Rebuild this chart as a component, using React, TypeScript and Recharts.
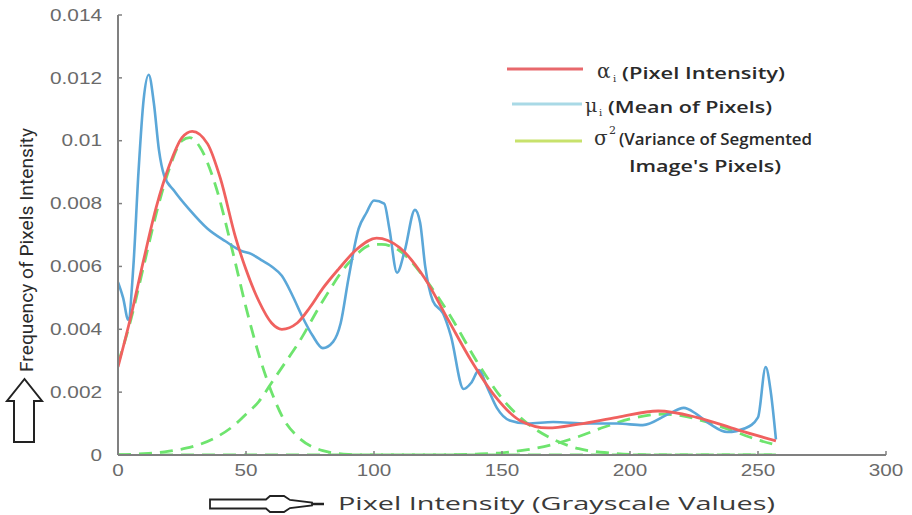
import React from 'react';
import {LineChart, Line, XAxis, YAxis, Legend} from 'recharts';

const xTicks = [0, 50, 100, 150, 200, 250, 300];
const yTicks = [0, 0.002, 0.004, 0.006, 0.008, 0.01, 0.012, 0.014];

// alpha_i (pixel intensity), fitted mixture
const alphaX = [0, 5, 10, 15, 20, 25, 29, 35, 40, 46, 50, 55, 60, 64, 70, 75, 80, 86, 94, 101, 110, 120, 129, 138, 147, 157, 168, 180, 195, 211, 226, 242, 257];
const alphaY = [0.0028, 0.0044, 0.0062, 0.0079, 0.0092, 0.0101, 0.0103, 0.0099, 0.0088, 0.0069, 0.0059, 0.0049, 0.0042, 0.0040, 0.0042, 0.0047, 0.0053, 0.0059, 0.0066, 0.0069, 0.0066, 0.0056, 0.0043, 0.0030, 0.0019, 0.0011, 0.00086, 0.00098, 0.0012, 0.0014, 0.0012, 0.0008, 0.00045];

// mu_i (mean of pixels), histogram
const muX = [0, 2, 4, 6, 8, 10, 12, 14, 16, 18, 22, 28, 35, 42, 48, 52, 56, 60, 64, 68, 72, 76, 80, 84, 87, 90, 94, 97, 100, 104, 106, 109, 112, 116, 118, 120, 123, 127, 130, 135, 138, 141, 144, 148, 153, 160, 170, 183, 195, 205, 215, 221, 226, 231, 238, 245, 250, 253, 255, 257];
const muY = [0.0055, 0.0050, 0.0043, 0.0060, 0.0090, 0.0113, 0.0121, 0.0112, 0.0097, 0.0089, 0.0084, 0.0078, 0.0072, 0.0068, 0.0065, 0.0064, 0.0062, 0.0060, 0.0057, 0.0051, 0.0044, 0.0038, 0.0034, 0.0036, 0.0042, 0.0056, 0.0072, 0.0077, 0.0081, 0.0080, 0.0072, 0.0058, 0.0065, 0.0078, 0.0074, 0.0060, 0.0049, 0.0045, 0.0038, 0.0021, 0.0023, 0.0027, 0.0022, 0.0015, 0.0011, 0.0010, 0.00105, 0.0010, 0.0010, 0.00095, 0.0013, 0.0015, 0.0013, 0.0010, 0.00073, 0.00085, 0.0012, 0.0028, 0.0020, 0.0005];

// sigma^2 components (dashed)
const sigmaX = [0, 5, 10, 15, 20, 25, 28, 32, 38, 45, 50, 55, 60, 65, 70, 80, 90, 100, 103, 110, 120, 130, 140, 150, 160, 170, 180, 190, 200, 213, 220, 230, 240, 250, 257];
const sigma1 = [0.0029, 0.0043, 0.0060, 0.0077, 0.0091, 0.0100, 0.0101, 0.0098, 0.0086, 0.0064, 0.0047, 0.0032, 0.0020, 0.0011, 0.0006, 0.00014, 0.00002, 0, 0, 0, 0, 0, 0, 0, 0, 0, 0, 0, 0, 0, 0, 0, 0, 0, 0];
const sigma2 = [0.00001, 0.00002, 0.00004, 0.00007, 0.00012, 0.00019, 0.00024, 0.00034, 0.00055, 0.00092, 0.0013, 0.0017, 0.0023, 0.0029, 0.0035, 0.0049, 0.0061, 0.0067, 0.0067, 0.0065, 0.0056, 0.0044, 0.0030, 0.0018, 0.0010, 0.0005, 0.0002, 0.00008, 0.00002, 0, 0, 0, 0, 0, 0];
const sigma3 = [0, 0, 0, 0, 0, 0, 0, 0, 0, 0, 0, 0, 0, 0, 0, 0, 0, 0, 0, 0, 0, 0.00001, 0.00003, 0.00007, 0.00017, 0.00034, 0.00059, 0.00089, 0.00115, 0.0013, 0.00125, 0.00105, 0.00077, 0.00048, 0.00032];

const toPoints = (xs: number[], ys: number[]) => xs.map((x, i) => ({x, y: ys[i]}));

const AXIS = '#808080';
const TICK_TEXT = '#6a6a6a';
const RED = '#f0615f';
const BLUE = '#5ba7d8';
const GREEN = '#6ee46e';
const tickFont = "'Liberation Sans', Arial, sans-serif";

// the reference's numerals are drawn wide, so stretch them a little
const numWidth = (s: string) => s.split('').reduce((w, c) => w + (c === '.' ? 6 : 11.5), 0);

const LeftTick = (props: any) => {
  const {x, y, payload} = props;
  const label = String(payload.value);
  return (
    <g>
      <line x1={x + 16} y1={y} x2={x + 20} y2={y} stroke={AXIS} strokeWidth={1.5} />
      <text x={x} y={y} dy="0.36em" textAnchor="end" fill={TICK_TEXT} fontSize={16} fontFamily={tickFont} textLength={numWidth(label)} lengthAdjust="spacingAndGlyphs">
        {label}
      </text>
    </g>
  );
};

const BottomTick = (props: any) => {
  const {x, y, payload} = props;
  const label = String(payload.value);
  return (
    <g>
      <line x1={x} y1={y - 9} x2={x} y2={y - 13} stroke={AXIS} strokeWidth={1.5} />
      <text x={x} y={y} dy="0.75em" textAnchor="middle" fill={TICK_TEXT} fontSize={16} fontFamily={tickFont} textLength={numWidth(label)} lengthAdjust="spacingAndGlyphs">
        {label}
      </text>
    </g>
  );
};

const TopTick = (props: any) => {
  const {x, y} = props;
  return <line x1={x} y1={y} x2={x} y2={y + 4} stroke={AXIS} strokeWidth={1.5} />;
};

const RightTick = (props: any) => {
  const {x, y} = props;
  return <line x1={x} y1={y} x2={x - 4} y2={y} stroke={AXIS} strokeWidth={1.5} />;
};

const legendFont = "'Open Sans', 'Noto Sans', sans-serif";
const mathFont = "'DejaVu Serif', serif";

const LegendBox = () => (
  <svg width={330} height={135} style={{display: 'block'}}>
    <line x1={12} y1={19} x2={88} y2={19} stroke="#e8686c" strokeWidth={3} />
    <text x={102} y={28} fontSize={20} fill="#333" fontFamily={mathFont}>α</text>
    <text x={118} y={32} fontSize={10} fill="#333" fontFamily={mathFont}>i</text>
    <text x={127} y={29} fontSize={16} fontWeight={600} fill="#2a2a2a" fontFamily={legendFont} textLength={163} lengthAdjust="spacingAndGlyphs">(Pixel Intensity)</text>

    <line x1={17} y1={54} x2={87} y2={54} stroke="#a9d9e6" strokeWidth={3} />
    <text x={90} y={62} fontSize={19} fill="#333" fontFamily={mathFont}>μ</text>
    <text x={104} y={66} fontSize={10} fill="#333" fontFamily={mathFont}>i</text>
    <text x={113} y={63} fontSize={16} fontWeight={600} fill="#2a2a2a" fontFamily={legendFont} textLength={164} lengthAdjust="spacingAndGlyphs">(Mean of Pixels)</text>

    <line x1={20} y1={91} x2={87} y2={91} stroke="#c8e26c" strokeWidth={3} />
    <text x={99} y={95} fontSize={20} fill="#333" fontFamily={mathFont}>σ</text>
    <text x={114} y={84} fontSize={11} fill="#333" fontFamily={mathFont}>2</text>
    <text x={124} y={95} fontSize={16} fontWeight={600} fill="#2a2a2a" fontFamily={legendFont} textLength={193} lengthAdjust="spacingAndGlyphs">(Variance of Segmented</text>
    <text x={134} y={122} fontSize={16} fontWeight={600} fill="#2a2a2a" fontFamily={legendFont} textLength={152} lengthAdjust="spacingAndGlyphs">Image's Pixels)</text>
  </svg>
);

export default function App() {
  return (
    <div style={{position: 'absolute', left: 0, top: 0, width: 912, height: 515, background: '#fff'}}>
      <LineChart width={912} height={515} margin={{top: 15, right: 26, bottom: 30, left: 0}}>
        <XAxis
          type="number"
          dataKey="x"
          domain={[0, 300]}
          ticks={xTicks}
          height={30}
          tickSize={0}
          tickMargin={9}
          tickLine={false}
          tick={<BottomTick />}
          axisLine={{stroke: AXIS, strokeWidth: 2}}
          allowDataOverflow
        />
        <XAxis
          xAxisId="top"
          orientation="top"
          type="number"
          domain={[0, 300]}
          ticks={xTicks}
          height={0}
          tickSize={0}
          tickMargin={0}
          tickLine={false}
          tick={<TopTick />}
          axisLine={{stroke: AXIS, strokeWidth: 2}}
          allowDataOverflow
        />
        <YAxis
          type="number"
          domain={[0, 0.014]}
          ticks={yTicks}
          width={118}
          tickSize={0}
          tickMargin={16}
          tickLine={false}
          tick={<LeftTick />}
          axisLine={{stroke: AXIS, strokeWidth: 2}}
          allowDataOverflow
        />
        <YAxis
          yAxisId="right"
          orientation="right"
          type="number"
          domain={[0, 0.014]}
          ticks={yTicks}
          width={0}
          tickSize={0}
          tickMargin={0}
          tickLine={false}
          tick={<RightTick />}
          axisLine={{stroke: AXIS, strokeWidth: 2}}
          allowDataOverflow
        />
        <Line data={toPoints(sigmaX, sigma1)} dataKey="y" type="monotone" stroke={GREEN} strokeWidth={2.8} strokeDasharray="13 8" dot={false} isAnimationActive={false} />
        <Line data={toPoints(sigmaX, sigma2)} dataKey="y" type="monotone" stroke={GREEN} strokeWidth={2.8} strokeDasharray="13 8" dot={false} isAnimationActive={false} />
        <Line data={toPoints(sigmaX, sigma3)} dataKey="y" type="monotone" stroke={GREEN} strokeWidth={2.8} strokeDasharray="13 8" dot={false} isAnimationActive={false} />
        <Line data={toPoints(muX, muY)} dataKey="y" type="monotone" stroke={BLUE} strokeWidth={2.6} dot={false} isAnimationActive={false} />
        <Line data={toPoints(alphaX, alphaY)} dataKey="y" type="monotone" stroke={RED} strokeWidth={2.8} dot={false} isAnimationActive={false} />
        <Legend
          layout="vertical"
          align="center"
          verticalAlign="middle"
          content={() => <LegendBox />}
          wrapperStyle={{left: 495, top: 50, width: 330, height: 135}}
        />
      </LineChart>
      <svg width={912} height={515} style={{position: 'absolute', left: 0, top: 0, pointerEvents: 'none'}}>
        <text
          transform="translate(33 250) rotate(-90)"
          textAnchor="middle"
          fontSize={19}
          fill="#2b2b2b"
          fontFamily="'Liberation Sans Narrow', 'Roboto', sans-serif"
          textLength={244}
          lengthAdjust="spacingAndGlyphs">
          Frequency of Pixels Intensity
        </text>
        <polygon points="24.5,379 7,401 14,401 14,442 34,442 34,401 42,401" fill="none" stroke="#222" strokeWidth={2} />
        <text x={338} y={510} fontSize={19} fill="#3a3a3a" fontFamily="'Open Sans', 'Noto Sans', sans-serif" textLength={437} lengthAdjust="spacingAndGlyphs">
          Pixel Intensity (Grayscale Values)
        </text>
        <polygon
          points="210,499.5 266,499.5 270,496 284,496 290,500 312,502.5 312,505.5 290,508 284,512 270,512 266,508.5 210,508.5"
          fill="none"
          stroke="#222"
          strokeWidth={1.8}
        />
        <line x1={312} y1={504} x2={324} y2={504} stroke="#222" strokeWidth={2.5} />
      </svg>
    </div>
  );
}
